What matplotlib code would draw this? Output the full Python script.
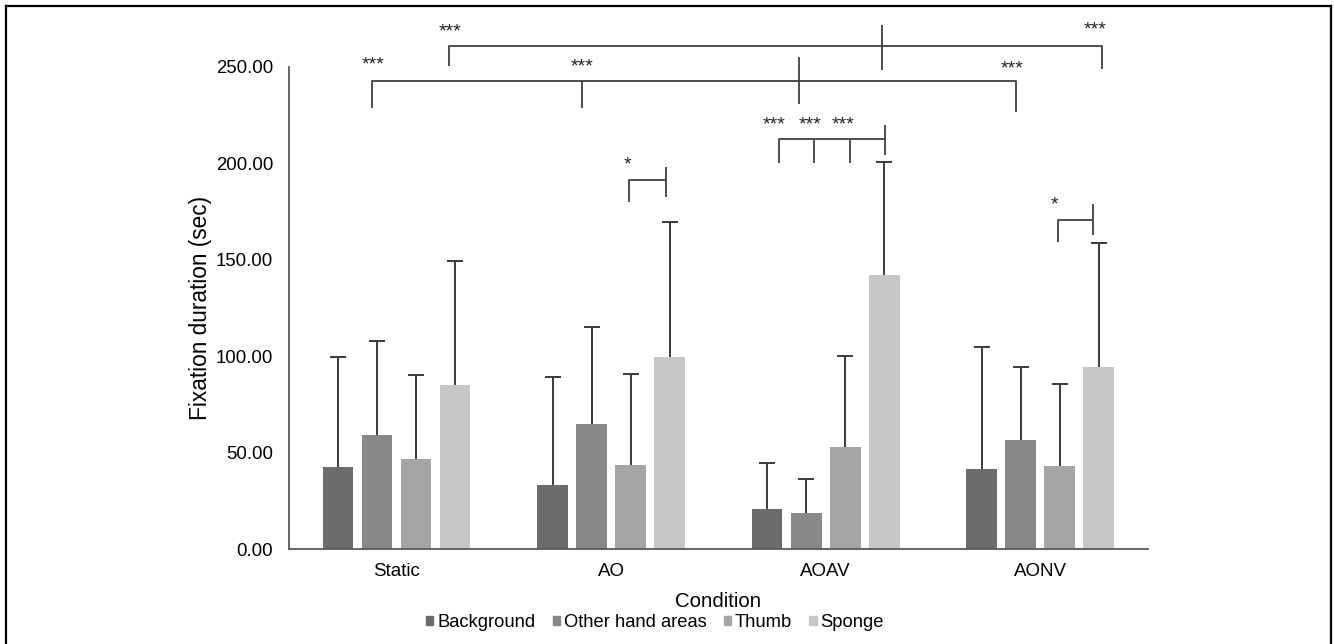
import numpy as np
import matplotlib
matplotlib.use('Agg')
import matplotlib.pyplot as plt
from matplotlib.patches import Patch
from matplotlib.lines import Line2D

plt.rcParams['font.family'] = ['Liberation Sans', 'DejaVu Sans']

# data
conditions = ['Static', 'AO', 'AOAV', 'AONV']
areas = ['Background', 'Other hand areas', 'Thumb', 'Sponge']
colors = ['#6b6b6b', '#888888', '#a5a5a5', '#c6c6c6']

background = [42.5, 33.2, 20.7, 41.3]
other_hand = [59.2, 64.8, 18.6, 56.3]
thumb = [46.7, 43.7, 52.7, 42.8]
sponge = [85.0, 99.5, 142.0, 94.3]

background_top = [99.3, 89.0, 44.6, 104.5]
other_hand_top = [107.9, 115.0, 36.3, 94.5]
thumb_top = [90.0, 90.5, 100.0, 85.3]
sponge_top = [149.2, 169.6, 200.7, 158.4]

means = [background, other_hand, thumb, sponge]
tops = [background_top, other_hand_top, thumb_top, sponge_top]

# significance brackets: (x points, y points) in data units
brackets = [
    ([-0.115, -0.115, 2.888, 2.888], [228.7, 242.5, 242.5, 226.4]),
    ([0.865, 0.865], [228.7, 242.5]),
    ([1.875, 1.875], [230.6, 254.8]),
    ([0.246, 0.246, 3.288, 3.288], [250.3, 260.6, 260.6, 248.5]),
    ([2.262, 2.262], [248.2, 271.5]),
    ([1.083, 1.083, 1.257], [179.6, 191.2, 191.2]),
    ([1.257, 1.257], [182.2, 198.1]),
    ([1.783, 1.783, 2.277], [200.2, 212.6, 212.6]),
    ([1.946, 1.946], [200.2, 212.6]),
    ([2.113, 2.113], [200.2, 212.6]),
    ([2.277, 2.277], [204.1, 219.7]),
    ([3.083, 3.083, 3.246], [159.2, 170.5, 170.5]),
    ([3.246, 3.246], [162.7, 178.6]),
]
stars = [
    (-0.111, 251.0, '***'), (0.865, 249.8, '***'), (2.867, 248.6, '***'),
    (0.249, 267.8, '***'), (3.256, 268.8, '***'),
    (1.078, 199.2, '*'),
    (1.760, 219.5, '***'), (1.928, 219.5, '***'), (2.080, 219.5, '***'),
    (3.065, 178.5, '*'),
]

fig = plt.figure(figsize=(13.34, 6.44), dpi=100)
ax = fig.add_axes([0.2169, 0.1475, 0.6433, 0.7492])

x = np.arange(len(conditions))
pitch = 0.1818
width = 0.1427
for i in range(len(areas)):
    pos = x + (i - 1.5) * pitch
    vals = np.array(means[i])
    up = np.array(tops[i]) - vals
    bars = ax.bar(pos, vals, width, color=colors[i], label=areas[i],
                  yerr=[np.zeros_like(up), up], capsize=6,
                  error_kw=dict(ecolor='#3a3a3a', elinewidth=1.4, capthick=1.4))
    # only keep the upper caps
    for cap in bars.errorbar.lines[1]:
        if np.allclose(cap.get_ydata(), vals):
            cap.set_visible(False)

for bx, by in brackets:
    ax.plot(bx, by, color='#404040', lw=1.3, clip_on=False, solid_capstyle='butt')
for sx, sy, s in stars:
    ax.text(sx, sy, s, ha='center', va='center', fontsize=14, color='#222222')

ax.set_xlim(-0.5, 3.5)
ax.set_ylim(0, 250)
ax.set_yticks(np.arange(0, 251, 50))
ax.set_yticklabels(['{:.2f}'.format(v) for v in np.arange(0, 251, 50)])
ax.set_xticks(x)
ax.set_xticklabels(conditions)
ax.tick_params(axis='y', length=0, pad=11.5, labelsize=13.4)
ax.tick_params(axis='x', length=0, pad=10, labelsize=13.5)
for side in ['top', 'right']:
    ax.spines[side].set_visible(False)
for side in ['left', 'bottom']:
    ax.spines[side].set_color('#595959')
    ax.spines[side].set_linewidth(1.3)

fig.text(200 / 1334, 1 - 308 / 644, 'Fixation duration (sec)', rotation=90,
         ha='center', va='center', fontsize=16.3)
fig.text(718 / 1334, 1 - 601.7 / 644, 'Condition', ha='center', va='center', fontsize=14.7)

handles = [Patch(color=c) for c in colors]
fig.legend(handles, areas, loc='center', bbox_to_anchor=(655 / 1334, 1 - 622.7 / 644),
           ncol=4, frameon=False, fontsize=13.2, handlelength=0.4, handleheight=0.4,
           handletextpad=0.2, columnspacing=0.95, borderpad=0)

# black frame around the picture
for xs, ys in [([0.0043, 0.9978], [0.991, 0.991]), ([0.0043, 0.0043], [0.991, 0]),
               ([0.9978, 0.9978], [0.991, 0])]:
    fig.add_artist(Line2D(xs, ys, color='black', lw=1.6, transform=fig.transFigure))

fig.savefig('out.png', dpi=100)
